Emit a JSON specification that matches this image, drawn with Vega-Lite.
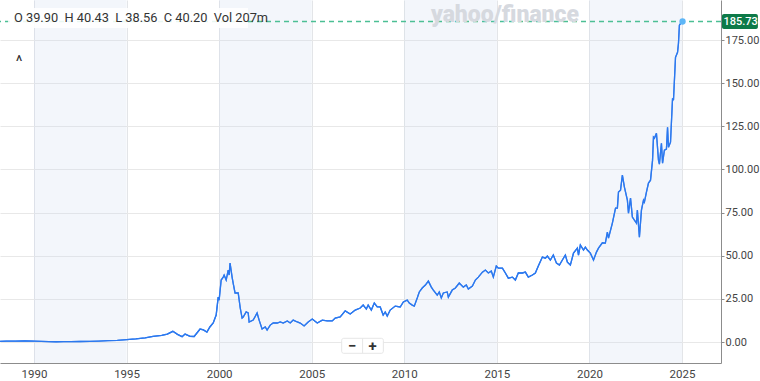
{
  "$schema": "https://vega.github.io/schema/vega-lite/v6.json",
  "width": 721,
  "height": 363,
  "autosize": {"type": "none"},
  "padding": {"left": 0, "top": 0, "right": 39, "bottom": 18},
  "background": "white",
  "config": {"view": {"stroke": null}, "font": "Roboto"},
  "datasets": {
    "prices": [
      {"year": 1988.16, "price": 0.4}, {"year": 1988.5, "price": 0.5}, {"year": 1989.0, "price": 0.55}, {"year": 1989.5, "price": 0.6},
      {"year": 1990.0, "price": 0.5}, {"year": 1990.4, "price": 0.35}, {"year": 1990.8, "price": 0.2}, {"year": 1991.2, "price": 0.15},
      {"year": 1991.6, "price": 0.2}, {"year": 1992.0, "price": 0.25}, {"year": 1992.5, "price": 0.3}, {"year": 1993.0, "price": 0.4},
      {"year": 1993.5, "price": 0.55}, {"year": 1994.0, "price": 0.8}, {"year": 1994.5, "price": 1.0}, {"year": 1995.0, "price": 1.4},
      {"year": 1995.5, "price": 1.8}, {"year": 1996.0, "price": 2.4}, {"year": 1996.43, "price": 3.2}, {"year": 1996.9, "price": 3.8},
      {"year": 1997.2, "price": 4.6}, {"year": 1997.5, "price": 6.2}, {"year": 1997.75, "price": 4.4}, {"year": 1998.0, "price": 3.1},
      {"year": 1998.16, "price": 4.6}, {"year": 1998.43, "price": 3.3}, {"year": 1998.65, "price": 3.2}, {"year": 1998.97, "price": 7.5},
      {"year": 1999.15, "price": 7.0}, {"year": 1999.34, "price": 5.8}, {"year": 1999.5, "price": 8.7}, {"year": 1999.68, "price": 11.0},
      {"year": 1999.84, "price": 15.6}, {"year": 1999.95, "price": 26.0}, {"year": 2000.0, "price": 24.3}, {"year": 2000.11, "price": 35.9},
      {"year": 2000.22, "price": 37.6}, {"year": 2000.27, "price": 38.8}, {"year": 2000.38, "price": 35.9}, {"year": 2000.49, "price": 41.7},
      {"year": 2000.54, "price": 38.8}, {"year": 2000.59, "price": 45.7}, {"year": 2000.7, "price": 37.6}, {"year": 2000.76, "price": 34.0},
      {"year": 2000.86, "price": 28.4}, {"year": 2001.03, "price": 28.4}, {"year": 2001.14, "price": 19.7}, {"year": 2001.24, "price": 13.9},
      {"year": 2001.3, "price": 14.5}, {"year": 2001.46, "price": 17.4}, {"year": 2001.57, "price": 16.8}, {"year": 2001.62, "price": 11.6},
      {"year": 2001.84, "price": 12.7}, {"year": 2002.05, "price": 16.8}, {"year": 2002.16, "price": 12.7}, {"year": 2002.32, "price": 7.5},
      {"year": 2002.49, "price": 8.7}, {"year": 2002.59, "price": 6.9}, {"year": 2002.76, "price": 9.8}, {"year": 2002.92, "price": 11.0},
      {"year": 2003.14, "price": 11.0}, {"year": 2003.3, "price": 11.6}, {"year": 2003.46, "price": 11.0}, {"year": 2003.68, "price": 12.2},
      {"year": 2003.84, "price": 11.0}, {"year": 2004.0, "price": 12.7}, {"year": 2004.22, "price": 11.6}, {"year": 2004.38, "price": 11.0},
      {"year": 2004.59, "price": 9.3}, {"year": 2004.81, "price": 11.6}, {"year": 2005.03, "price": 13.3}, {"year": 2005.3, "price": 11.0},
      {"year": 2005.57, "price": 12.7}, {"year": 2005.84, "price": 12.2}, {"year": 2006.11, "price": 12.2}, {"year": 2006.27, "price": 13.9},
      {"year": 2006.54, "price": 14.5}, {"year": 2006.81, "price": 18.0}, {"year": 2007.08, "price": 16.2}, {"year": 2007.35, "price": 18.5},
      {"year": 2007.62, "price": 19.7}, {"year": 2007.78, "price": 21.4}, {"year": 2007.95, "price": 19.1}, {"year": 2008.05, "price": 21.4},
      {"year": 2008.22, "price": 18.5}, {"year": 2008.38, "price": 22.6}, {"year": 2008.54, "price": 20.3}, {"year": 2008.7, "price": 20.3},
      {"year": 2008.86, "price": 15.6}, {"year": 2008.97, "price": 17.4}, {"year": 2009.08, "price": 15.0}, {"year": 2009.24, "price": 18.5},
      {"year": 2009.51, "price": 20.8}, {"year": 2009.78, "price": 20.3}, {"year": 2009.95, "price": 23.2}, {"year": 2010.16, "price": 24.3},
      {"year": 2010.27, "price": 22.6}, {"year": 2010.43, "price": 21.4}, {"year": 2010.54, "price": 20.8}, {"year": 2010.7, "price": 25.5},
      {"year": 2010.81, "price": 29.0}, {"year": 2010.97, "price": 31.3}, {"year": 2011.14, "price": 33.0}, {"year": 2011.3, "price": 35.3},
      {"year": 2011.46, "price": 31.8}, {"year": 2011.57, "price": 30.1}, {"year": 2011.78, "price": 27.2}, {"year": 2011.89, "price": 29.0},
      {"year": 2012.0, "price": 25.5}, {"year": 2012.11, "price": 28.4}, {"year": 2012.32, "price": 29.0}, {"year": 2012.38, "price": 26.0},
      {"year": 2012.59, "price": 30.1}, {"year": 2012.76, "price": 31.3}, {"year": 2012.97, "price": 34.2}, {"year": 2013.19, "price": 31.8},
      {"year": 2013.35, "price": 33.0}, {"year": 2013.46, "price": 30.7}, {"year": 2013.68, "price": 32.4}, {"year": 2013.84, "price": 35.9},
      {"year": 2014.0, "price": 37.6}, {"year": 2014.22, "price": 40.5}, {"year": 2014.38, "price": 41.7}, {"year": 2014.54, "price": 40.0},
      {"year": 2014.7, "price": 41.1}, {"year": 2014.81, "price": 37.6}, {"year": 2014.97, "price": 44.0}, {"year": 2015.08, "price": 42.8},
      {"year": 2015.3, "price": 42.8}, {"year": 2015.46, "price": 40.0}, {"year": 2015.62, "price": 37.0}, {"year": 2015.84, "price": 37.6},
      {"year": 2016.0, "price": 35.9}, {"year": 2016.16, "price": 40.0}, {"year": 2016.38, "price": 40.0}, {"year": 2016.54, "price": 40.5},
      {"year": 2016.7, "price": 37.6}, {"year": 2016.92, "price": 38.8}, {"year": 2017.08, "price": 40.0}, {"year": 2017.24, "price": 44.0},
      {"year": 2017.46, "price": 49.2}, {"year": 2017.62, "price": 48.6}, {"year": 2017.73, "price": 49.8}, {"year": 2017.89, "price": 47.5},
      {"year": 2018.05, "price": 50.4}, {"year": 2018.22, "price": 45.7}, {"year": 2018.38, "price": 44.6}, {"year": 2018.54, "price": 47.5},
      {"year": 2018.7, "price": 50.4}, {"year": 2018.81, "price": 46.3}, {"year": 2018.97, "price": 44.6}, {"year": 2019.14, "price": 51.5},
      {"year": 2019.35, "price": 54.4}, {"year": 2019.41, "price": 50.4}, {"year": 2019.51, "price": 56.2}, {"year": 2019.68, "price": 53.3},
      {"year": 2019.78, "price": 55.0}, {"year": 2019.89, "price": 53.3}, {"year": 2020.05, "price": 51.5}, {"year": 2020.22, "price": 47.5},
      {"year": 2020.38, "price": 52.1}, {"year": 2020.49, "price": 54.4}, {"year": 2020.7, "price": 57.5}, {"year": 2020.86, "price": 57.3},
      {"year": 2020.97, "price": 63.7}, {"year": 2021.03, "price": 60.2}, {"year": 2021.24, "price": 68.9}, {"year": 2021.41, "price": 77.6},
      {"year": 2021.51, "price": 77.6}, {"year": 2021.57, "price": 86.9}, {"year": 2021.68, "price": 88.0}, {"year": 2021.78, "price": 96.7},
      {"year": 2021.89, "price": 89.7}, {"year": 2022.05, "price": 82.2}, {"year": 2022.11, "price": 74.7}, {"year": 2022.22, "price": 83.4},
      {"year": 2022.32, "price": 72.4}, {"year": 2022.43, "price": 70.6}, {"year": 2022.54, "price": 68.9}, {"year": 2022.59, "price": 76.4},
      {"year": 2022.7, "price": 60.8}, {"year": 2022.81, "price": 76.4}, {"year": 2022.92, "price": 82.2}, {"year": 2022.97, "price": 81.1},
      {"year": 2023.08, "price": 86.9}, {"year": 2023.19, "price": 92.1}, {"year": 2023.3, "price": 93.8}, {"year": 2023.41, "price": 105.4},
      {"year": 2023.46, "price": 118.7}, {"year": 2023.51, "price": 118.1}, {"year": 2023.62, "price": 121.0}, {"year": 2023.73, "price": 105.4},
      {"year": 2023.78, "price": 103.1}, {"year": 2023.89, "price": 115.2}, {"year": 2023.95, "price": 103.6}, {"year": 2024.05, "price": 111.2},
      {"year": 2024.16, "price": 111.8}, {"year": 2024.22, "price": 124.5}, {"year": 2024.27, "price": 112.9}, {"year": 2024.38, "price": 115.8},
      {"year": 2024.49, "price": 141.3}, {"year": 2024.54, "price": 140.1}, {"year": 2024.65, "price": 165.0}, {"year": 2024.76, "price": 167.9},
      {"year": 2024.81, "price": 173.1}, {"year": 2024.86, "price": 183.6}, {"year": 2024.97, "price": 185.3}, {"year": 2025.03, "price": 185.73}
    ],
    "bands": [
      {"start": 1990, "end": 1995}, {"start": 2000, "end": 2005}, {"start": 2010, "end": 2015}, {"start": 2020, "end": 2025}
    ],
    "last": [{"year": 2025.03, "price": 185.73}]
  },
  "layer": [
    {
      "data": {"name": "prices"},
      "mark": {"type": "line", "color": "#2b78ef", "strokeWidth": 1.3},
      "encoding": {
        "x": {"field": "year", "type": "quantitative", "title": null,
          "scale": {"domain": [1988.164, 2027.107], "nice": false, "zero": false},
          "axis": {"orient": "bottom", "values": [1990, 1995, 2000, 2005, 2010, 2015, 2020, 2025], "format": "d", "ticks": false, "grid": true, "gridColor": "#e3e5e8", "domainColor": "#8c8c8c", "labelPadding": 5, "labelFontSize": 11.5, "labelColor": "#444", "labelFont": "Roboto", "labelFlush": false}},
        "y": {"field": "price", "type": "quantitative", "title": null,
          "scale": {"domain": [-12.17, 198.2], "nice": false, "zero": false},
          "axis": {"orient": "right", "values": [0, 25, 50, 75, 100, 125, 150, 175], "format": ".2f", "grid": true, "gridColor": "#e8e8e8", "tickSize": 3, "tickColor": "#8c8c8c", "domainColor": "#8c8c8c", "labelPadding": 1, "labelFontSize": 11, "labelColor": "#444", "labelFont": "Roboto", "labelFlush": false}}
      }
    },
    {
      "data": {"name": "bands"},
      "mark": {"type": "rect", "color": "#c8d8ec", "opacity": 0.22},
      "encoding": {
        "x": {"field": "start", "type": "quantitative", "title": null},
        "x2": {"field": "end"}
      }
    },
    {
      "data": {"name": "prices"},
      "mark": {"type": "line", "color": "#2b78ef", "strokeWidth": 1.3},
      "encoding": {
        "x": {"field": "year", "type": "quantitative", "title": null},
        "y": {"field": "price", "type": "quantitative", "title": null}
      }
    },
    {
      "data": {"name": "last"},
      "mark": {"type": "rule", "stroke": "#4cbf95", "strokeDash": [5, 4], "strokeWidth": 1.3, "opacity": 1},
      "encoding": {"y": {"field": "price", "type": "quantitative", "title": null}}
    },
    {
      "data": {"name": "last"},
      "mark": {"type": "point", "filled": true, "color": "#5db6f7", "size": 40, "opacity": 1},
      "encoding": {
        "x": {"field": "year", "type": "quantitative", "title": null},
        "y": {"field": "price", "type": "quantitative", "title": null}
      }
    },
    {
      "data": {"values": [{}]},
      "mark": {"type": "rect", "fill": "white", "opacity": 0.88},
      "encoding": {"x": {"datum": 1988.6}, "x2": {"datum": 2001.56}, "y": {"datum": 193.5}, "y2": {"datum": 182.0}}
    },
    {
      "data": {"values": [{}]},
      "mark": {"type": "text", "text": "O 39.90\u00a0 H 40.43\u00a0 L 38.56\u00a0 C 40.20\u00a0 Vol 207m", "align": "left", "baseline": "middle", "fontSize": 12.8, "color": "#333", "font": "Roboto"},
      "encoding": {"x": {"datum": 1988.92}, "y": {"datum": 187.6}}
    },
    {
      "data": {"values": [{}]},
      "mark": {"type": "text", "text": "^", "align": "center", "baseline": "middle", "fontSize": 16, "color": "#333", "font": "Roboto"},
      "encoding": {"x": {"datum": 1989.19}, "y": {"datum": 162.5}}
    },
    {
      "data": {"values": [{}]},
      "mark": {"type": "text", "text": "yahoo/finance", "align": "center", "baseline": "middle", "fontSize": 23, "fontWeight": 900, "color": "#d6d9df", "font": "Roboto"},
      "encoding": {"x": {"datum": 2015.44}, "y": {"datum": 189.5}}
    },
    {
      "data": {"values": [{}]},
      "mark": {"type": "rect", "fill": "#0d7a48", "cornerRadius": 2, "clip": false},
      "encoding": {"x": {"datum": 2027.16}, "x2": {"datum": 2029.1}, "y": {"datum": 190.07}, "y2": {"datum": 181.38}}
    },
    {
      "data": {"name": "last"},
      "mark": {"type": "text", "align": "center", "baseline": "middle", "fontSize": 11, "fontWeight": 500, "color": "white", "font": "Roboto", "dx": 58},
      "encoding": {"x": {"field": "year", "type": "quantitative", "title": null}, "y": {"field": "price", "type": "quantitative", "title": null}, "text": {"field": "price", "type": "quantitative", "format": ".2f"}}
    },
    {
      "data": {"values": [{}]},
      "mark": {"type": "rect", "fill": "white", "stroke": "#e6e6e6", "strokeWidth": 1, "cornerRadius": 2},
      "encoding": {"x": {"datum": 2006.62}, "x2": {"datum": 2008.87}, "y": {"datum": 2.14}, "y2": {"datum": -6.55}}
    },
    {
      "data": {"values": [{}]},
      "mark": {"type": "rule", "color": "#e6e6e6"},
      "encoding": {"x": {"datum": 2007.75}, "y": {"datum": 2.14}, "y2": {"datum": -6.55}}
    },
    {
      "data": {"values": [{"sym": "−", "pos": 2007.19}, {"sym": "+", "pos": 2008.29}]},
      "mark": {"type": "text", "align": "center", "baseline": "middle", "fontSize": 15, "fontWeight": "bold", "color": "#333", "font": "Roboto"},
      "encoding": {"x": {"field": "pos", "type": "quantitative", "title": null}, "y": {"datum": -2.4}, "text": {"field": "sym"}}
    }
  ]
}
